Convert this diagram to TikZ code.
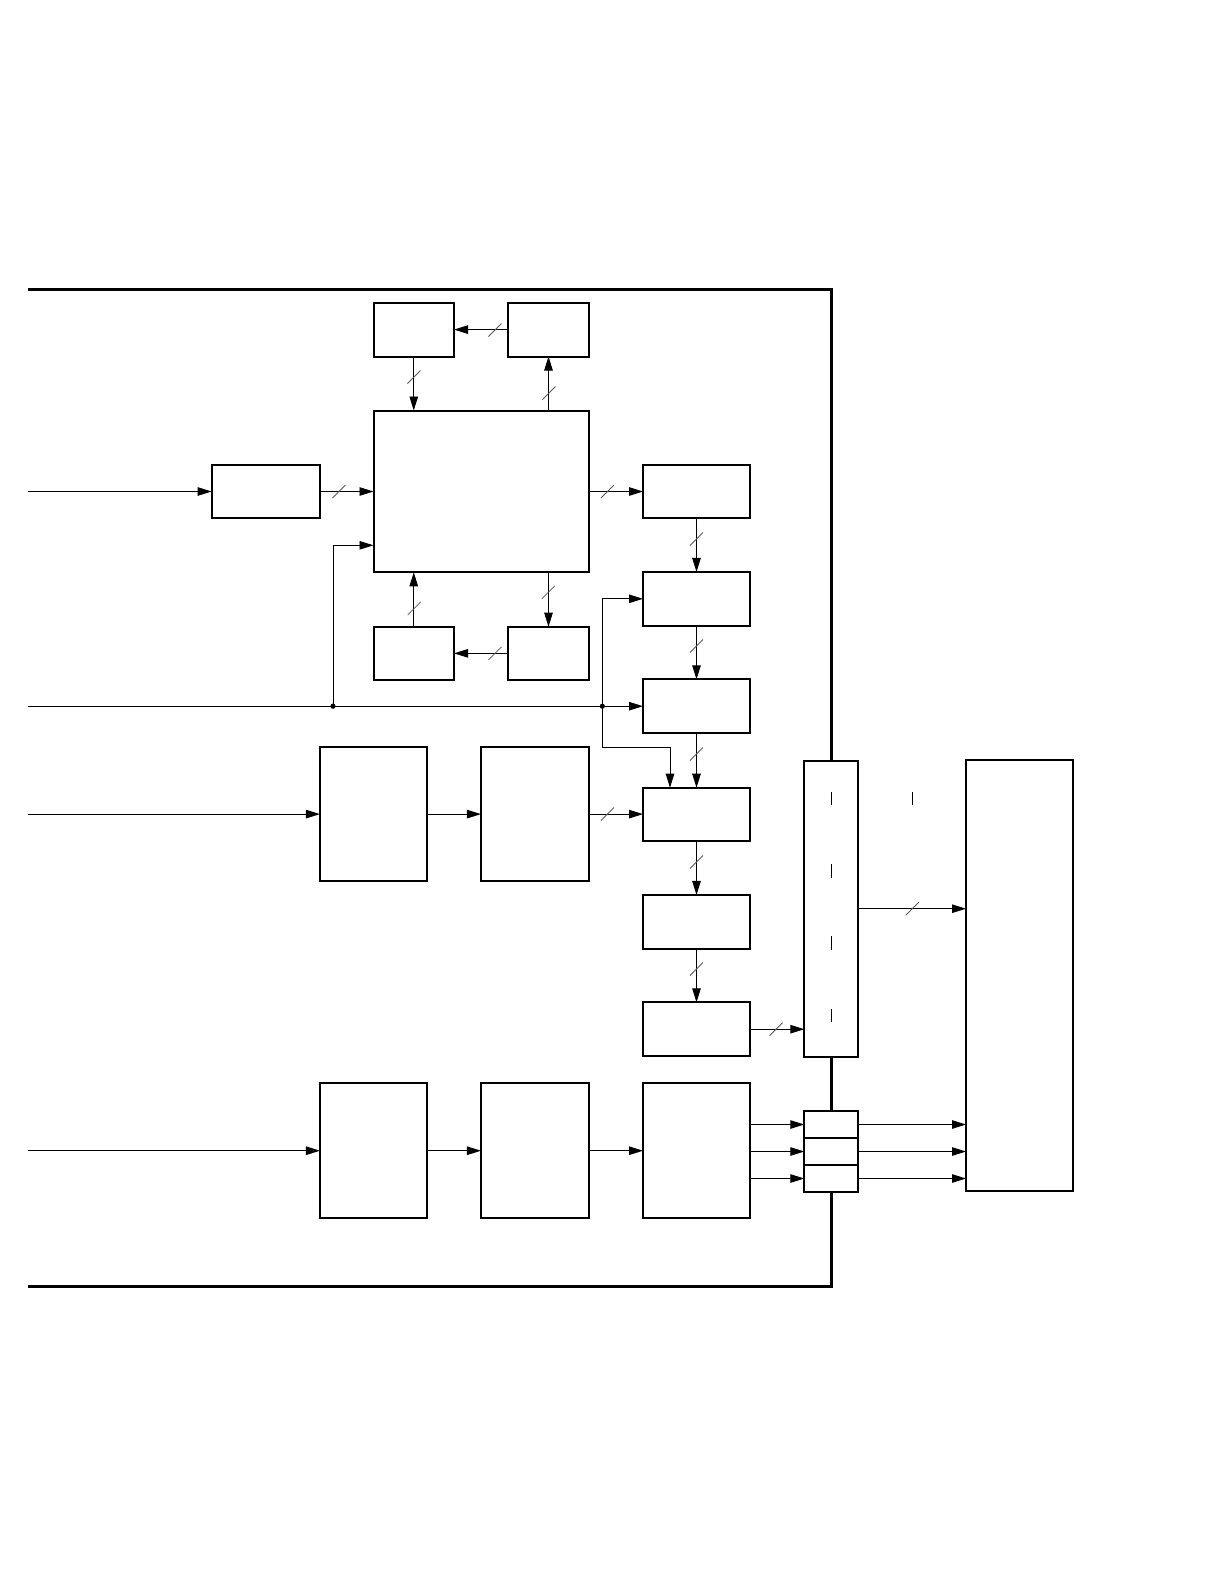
\documentclass[tikz,border=0pt]{standalone}
\usetikzlibrary{arrows.meta}
\begin{document}
\begin{tikzpicture}[x=1pt,y=-1pt,
  box/.style={draw,line width=2pt,inner sep=0pt,outer sep=0pt,fill=white},
  arr/.style={line width=0.9pt,-{Triangle[length=14pt,width=8.5pt]}},
  ln/.style={line width=0.9pt},
  frame/.style={line width=3pt},
  slashline/.style={line width=0.8pt,black!65},
  tick/.style={line width=1pt}]
\fill[white] (0,0) rectangle (1218,1588);
\useasboundingbox (0,0) rectangle (1218,1588);
% frame
\draw[frame] (28,289.3) -- (831.5,289.3) -- (831.5,760.7);
\draw[frame] (831.5,1056.7) -- (831.5,1111);
\draw[frame] (831.5,1192) -- (831.5,1286.5) -- (28,1286.5);
% boxes
\node[box,minimum width=80.5pt,minimum height=53.8pt] (A) at (413.75,329.6) {};
\node[box,minimum width=81.6pt,minimum height=53.8pt] (B) at (548.5,329.6) {};
\node[box,minimum width=215.8pt,minimum height=161.8pt] (C) at (481.4,491.4) {};
\node[box,minimum width=80.5pt,minimum height=53.3pt] (D) at (413.75,653.35) {};
\node[box,minimum width=81.6pt,minimum height=53.3pt] (E) at (548.5,653.35) {};
\node[box,minimum width=108.4pt,minimum height=53.7pt] (P) at (265.8,491.5) {};
\node[box,minimum width=107pt,minimum height=53.7pt] (F) at (696.5,491.5) {};
\node[box,minimum width=107pt,minimum height=53.7pt] (G) at (696.5,598.8) {};
\node[box,minimum width=107pt,minimum height=53.7pt] (H) at (696.5,706.2) {};
\node[box,minimum width=107pt,minimum height=53.7pt] (I) at (696.5,814.5) {};
\node[box,minimum width=107pt,minimum height=53.7pt] (J) at (696.5,921.8) {};
\node[box,minimum width=107pt,minimum height=53.7pt] (K) at (696.5,1029.2) {};
\node[box,minimum width=107.3pt,minimum height=133.8pt] (L1) at (373.6,814.1) {};
\node[box,minimum width=108.3pt,minimum height=133.8pt] (L2) at (535.1,814.1) {};
\node[box,minimum width=107.3pt,minimum height=134.6pt] (M1) at (373.6,1150.7) {};
\node[box,minimum width=108.3pt,minimum height=134.6pt] (M2) at (535.1,1150.7) {};
\node[box,minimum width=107pt,minimum height=134.6pt] (M3) at (696.5,1150.7) {};
\node[box,minimum width=54pt,minimum height=296pt] (X) at (831.3,908.7) {};
\node[box,minimum width=54pt,minimum height=27pt] (S1) at (831.3,1124.5) {};
\node[box,minimum width=54pt,minimum height=27pt] (S2) at (831.3,1151.5) {};
\node[box,minimum width=54pt,minimum height=27pt] (S3) at (831.3,1178.5) {};
\node[box,minimum width=107pt,minimum height=430.3pt] (R) at (1019.5,975.5) {};
% ticks
\draw[tick] (831.3,792) -- (831.3,805);
\draw[tick] (831.3,864) -- (831.3,877.7);
\draw[tick] (831.3,936) -- (831.3,950);
\draw[tick] (831.3,1009) -- (831.3,1022);
\draw[tick] (912.7,792) -- (912.7,805);
% coordinates
\coordinate (in1) at (28,491.5);
\coordinate (in2) at (28,706.2);
\coordinate (in3) at (28,814.1);
\coordinate (in4) at (28,1150.7);
\coordinate (j1) at (333,706.2);
\coordinate (j2) at (602.3,706.2);
\coordinate (c1) at (373.5,545.3);
\coordinate (j2b) at (602.3,747.7);
\coordinate (i1) at (670,787.7);
% connectors top
\draw[arr] (in1) -- (P.west);
\draw[arr] (P.east) -- (P.east -| C.west);
\draw[arr] (C.east |- F.west) -- (F.west);
\draw[arr] (B.west) -- (B.west -| A.east);
\draw[arr] (A.south) -- (A.south |- C.north);
\draw[arr] (B.south |- C.north) -- (B.south);
\draw[arr] (D.north) -- (D.north |- C.south);
\draw[arr] (E.north |- C.south) -- (E.north);
\draw[arr] (E.west) -- (E.west -| D.east);
% feed line
\draw[arr] (in2) -- (H.west);
\draw[arr] (j1) |- (c1);
\draw[arr] (j2) |- (G.west);
\draw[arr] (j2) -- (j2b) -| (i1);
\fill (j1) circle (2.6);
\fill (j2) circle (2.6);
% column
\draw[arr] (F.south) -- (G.north);
\draw[arr] (G.south) -- (H.north);
\draw[arr] (H.south) -- (I.north);
\draw[arr] (I.south) -- (J.north);
\draw[arr] (J.south) -- (K.north);
% middle row
\draw[arr] (in3) -- (L1.west);
\draw[arr] (L1.east) -- (L2.west);
\draw[arr] (L2.east) -- (L2.east -| I.west);
% bottom row
\draw[arr] (in4) -- (M1.west);
\draw[arr] (M1.east) -- (M2.west);
\draw[arr] (M2.east) -- (M3.west);
\draw[arr] (M3.east |- S1.west) -- (S1.west);
\draw[arr] (M3.east |- S2.west) -- (S2.west);
\draw[arr] (M3.east |- S3.west) -- (S3.west);
\draw[arr] (S1.east) -- (S1.east -| R.west);
\draw[arr] (S2.east) -- (S2.east -| R.west);
\draw[arr] (S3.east) -- (S3.east -| R.west);
% mux
\draw[arr] (K.east) -- (K.east -| X.west);
\draw[arr] (X.east) -- (X.east -| R.west);
% slashes
\foreach \p in {(495,330),(414,377),(549,393),(339,491.5),(607.5,491.5),(696.5,539),(696.5,646),(696.5,754),(696.5,862),(696.5,969),(607.5,814),(548.3,592.3),(414.3,608.3),(495,653.3),(776,1029.2),(912.3,908.7)}
  \draw[slashline] \p +(-6.5,6.5) -- +(6.5,-6.5);
\end{tikzpicture}
\end{document}
